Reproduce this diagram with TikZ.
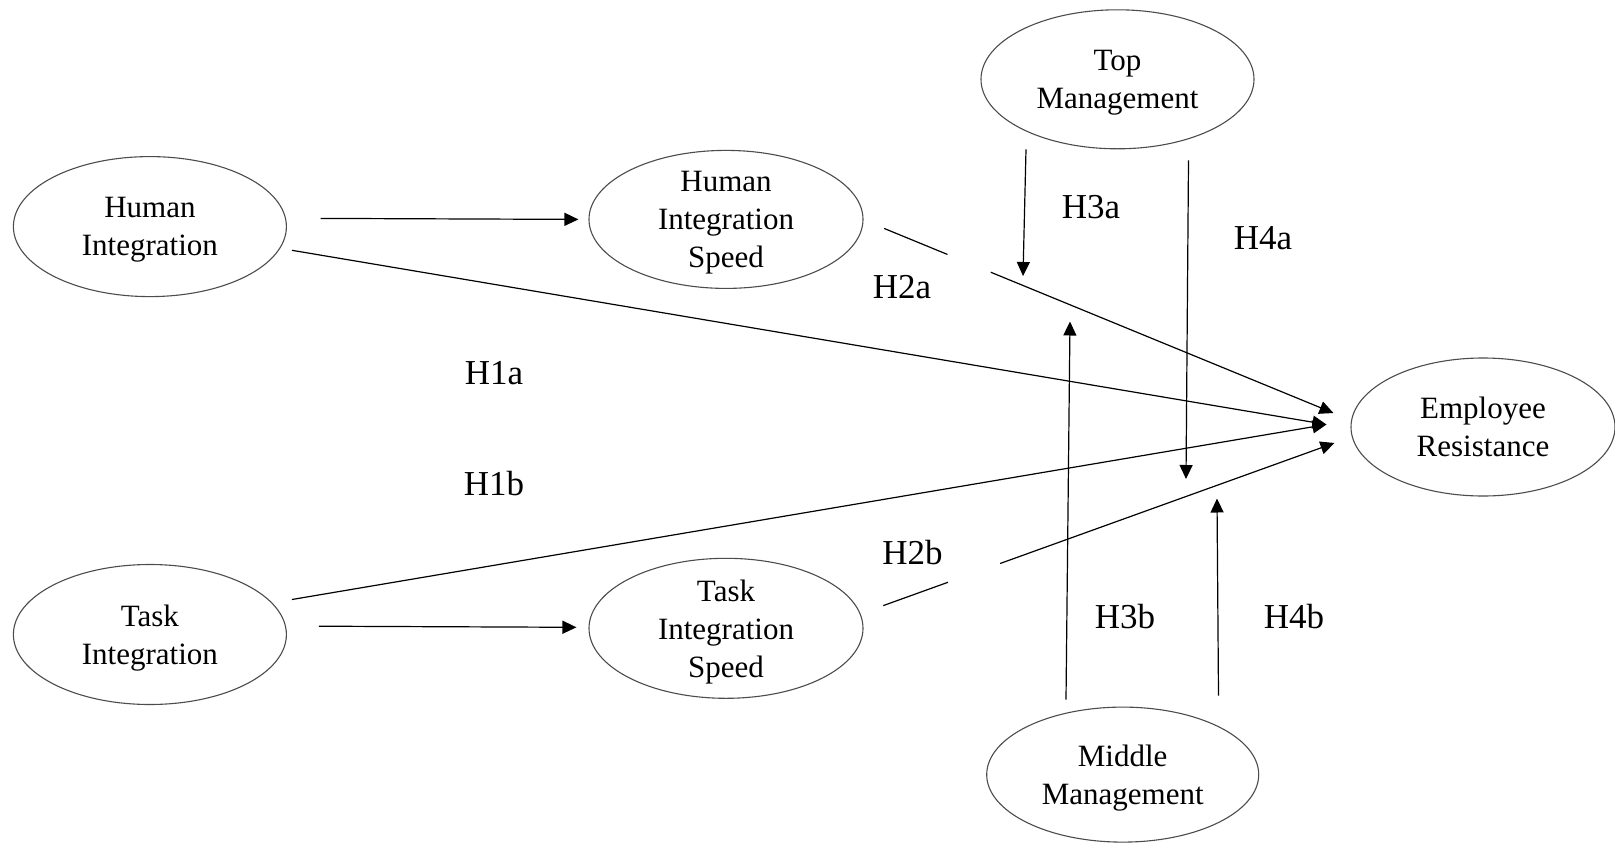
\documentclass[tikz,border=0pt]{standalone}
\usepackage{fontspec}
\setmainfont{Liberation Serif}
\usetikzlibrary{shapes.geometric,arrows.meta,calc}
\tikzset{
  ell/.style={ellipse, draw=black!70, line width=1.1pt, inner sep=0pt, align=center,
    text depth=0pt, font=\fontsize{31}{38}\selectfont},
  lab/.style={inner sep=0pt, font=\fontsize{35}{42}\selectfont},
  conn/.style={line width=1.2pt, draw=black},
  arr/.style={conn, -{Triangle[length=14pt,width=13pt]}},
}
\begin{document}
\begin{tikzpicture}[x=1pt,y=-1pt]
\useasboundingbox[fill=white] (0,0) rectangle (1615,846);
% nodes
\node[ell, minimum width=273pt, minimum height=140pt] (HI)  at (149.9,226.6) {Human\\Integration};
\node[ell, minimum width=274pt, minimum height=138pt] (HIS) at (726,219.4) {Human\\Integration\\Speed};
\node[ell, minimum width=273pt, minimum height=140pt] (TI)  at (149.9,634.5) {Task\\Integration};
\node[ell, minimum width=274pt, minimum height=140pt] (TIS) at (726,628.3) {Task\\Integration\\Speed};
\node[ell, minimum width=273pt, minimum height=139pt] (TM)  at (1117.5,79.3) {Top\\Management};
\node[ell, minimum width=272pt, minimum height=135pt] (MM)  at (1122.7,774.6) {Middle\\Management};
\node[ell, minimum width=264pt, minimum height=138pt] (ER)  at (1483,427) {Employee\\Resistance};
% labels
\node[lab] (L1a) at (494,373) {H1a};
\node[lab] (L1b) at (494,484) {H1b};
\node[lab] (L2a) at (902,287) {H2a};
\node[lab] (L2b) at (912.5,553) {H2b};
\node[lab] (L3a) at (1091,207) {H3a};
\node[lab] (L4a) at (1263,238) {H4a};
\node[lab] (L3b) at (1125,617) {H3b};
\node[lab] (L4b) at (1294,617) {H4b};
% endpoints
\coordinate (hi-o) at ($(HI.east)+(33.6,-8.2)$);
\coordinate (his-i) at ($(HIS.west)+(-10,0)$);
\coordinate (ti-o) at ($(TI.east)+(32,-8.3)$);
\coordinate (tis-i) at ($(TIS.west)+(-12,-1)$);
\coordinate (h1a-s) at ($(HI.east)+(5,23.7)$);
\coordinate (h1b-s) at ($(TI.east)+(5,-35)$);
\coordinate (er-1) at ($(ER.west)+(-24,-2.5)$);
\coordinate (h2a-s) at ($(HIS.east)+(20.5,9)$);
\coordinate (er-2a) at ($(ER.west)+(-17,-14)$);
\coordinate (h2b-s) at ($(TIS.east)+(19.7,-22.7)$);
\coordinate (er-2b) at ($(ER.west)+(-16,16)$);
\coordinate (h3a-s) at ($(TM.south)+(-91.5,0)$);
\coordinate (h3a-t) at (1023,276);
\coordinate (h4a-s) at ($(TM.south)+(71,11)$);
\coordinate (h4a-t) at (1186,479);
\coordinate (h3b-s) at ($(MM.north)+(-56.7,-7)$);
\coordinate (h3b-t) at (1070,321.5);
\coordinate (h4b-s) at ($(MM.north)+(95.8,-11)$);
\coordinate (h4b-t) at (1217,498.5);
% connectors
\draw[arr] (hi-o) -- (his-i);
\draw[arr] (ti-o) -- (tis-i);
\draw[arr] (h1a-s) -- (er-1);
\draw[arr] (h1b-s) -- (er-1);
\draw[conn] (h2a-s) -- ($(h2a-s)!0.141!(er-2a)$);
\draw[arr] ($(h2a-s)!0.2375!(er-2a)$) -- (er-2a);
\draw[conn] (h2b-s) -- ($(h2b-s)!0.1435!(er-2b)$);
\draw[arr] ($(h2b-s)!0.259!(er-2b)$) -- (er-2b);
\draw[arr] (h3a-s) -- (h3a-t);
\draw[arr] (h4a-s) -- (h4a-t);
\draw[arr] (h3b-s) -- (h3b-t);
\draw[arr] (h4b-s) -- (h4b-t);
\end{tikzpicture}
\end{document}
